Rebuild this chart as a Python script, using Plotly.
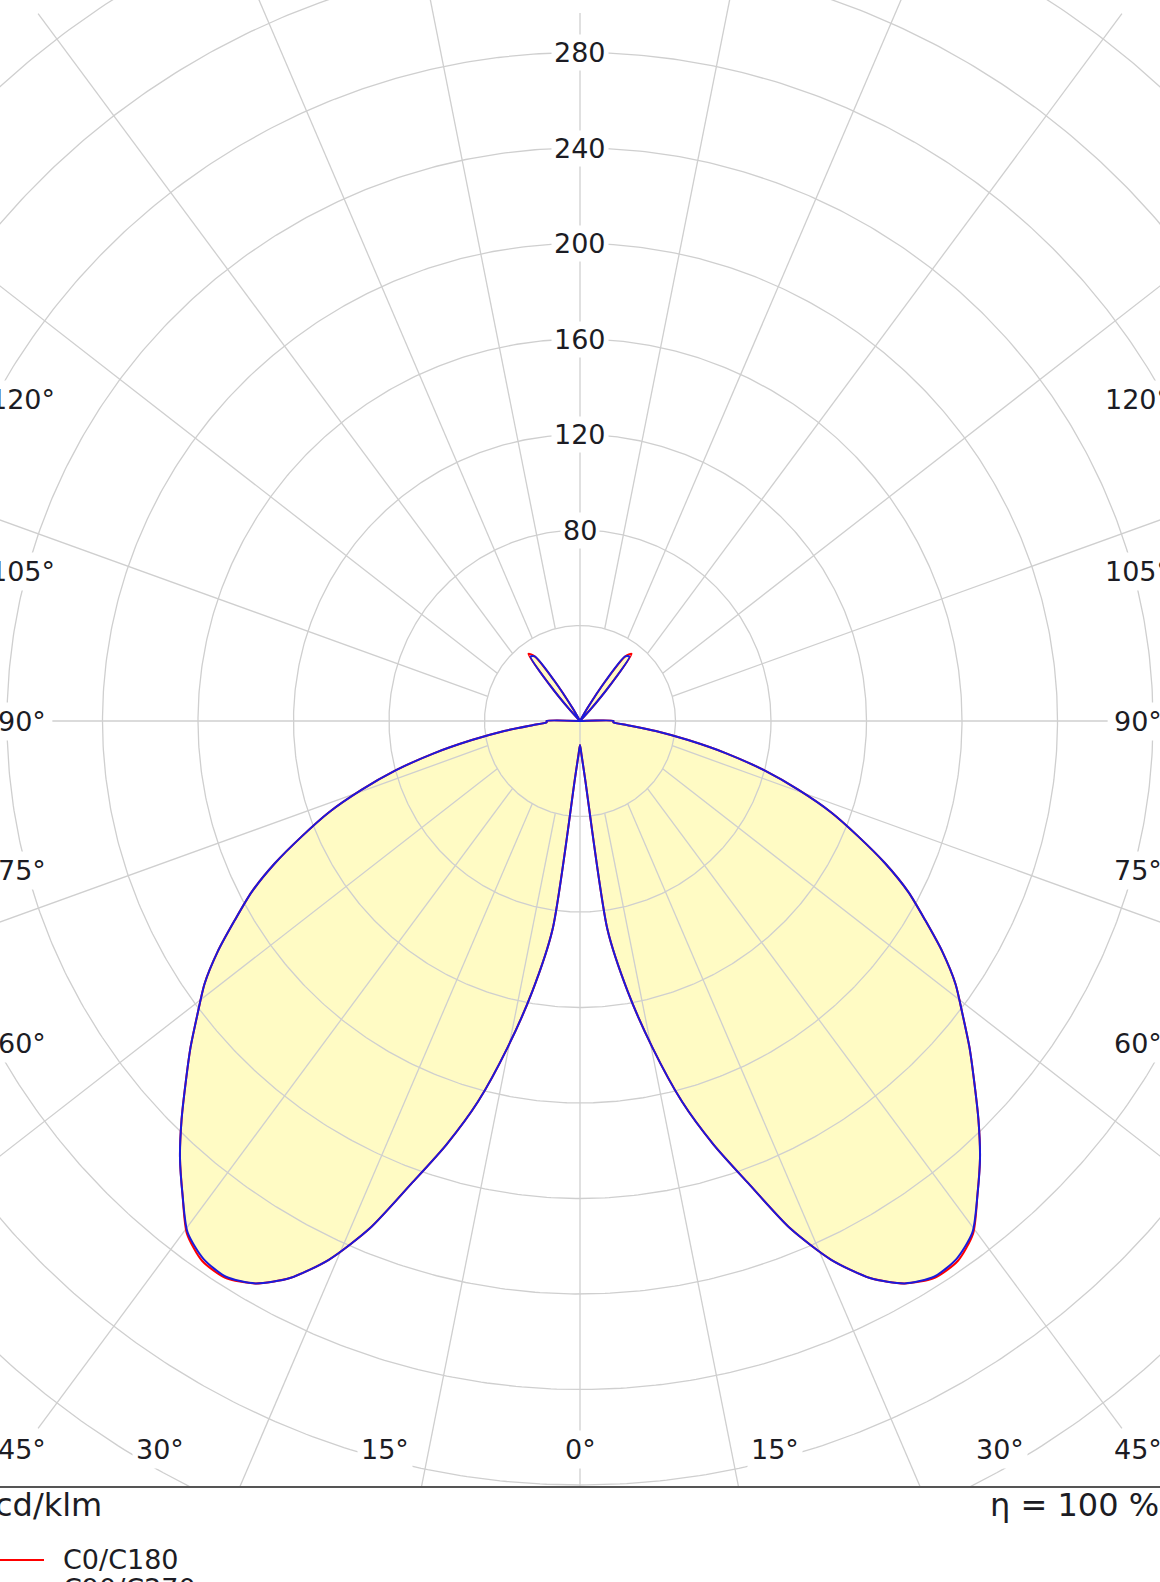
import numpy as np
import plotly.graph_objects as go

# ---------------- data ----------------
# gamma angle from nadir in degrees
gamma_deg = [0, 2.5, 5, 7.5, 10, 12.5, 15, 17.5, 20, 22.5, 25, 27.5, 30, 32.5, 35, 37.5,
             40, 42.5, 45, 47.5, 50, 52.5, 55, 57.5, 60, 62.5, 65, 67.5, 70, 72.5, 75, 77.5,
             80, 82.5, 85, 87.5, 90,
             92.5, 95, 100, 105, 110, 115, 120, 125, 130, 132.5, 135,
             137.5, 140, 142.5, 145, 147.5, 150, 152.5, 155,
             160, 165, 170, 175, 180]

# luminous intensity, cd/klm
c0_c180 = [10, 14, 24, 88, 115, 140, 165, 186, 206, 230, 249, 263, 272, 276.5, 276, 270.5,
           259, 248, 236, 224, 213, 202, 192, 180, 167, 155, 141, 126, 112, 96, 80, 63,
           46, 32, 20, 14, 14,
           0, 0, 0, 0, 0, 0, 0, 0, 0, 0, 0,
           6, 20, 35.5, 33, 20, 6, 0, 0,
           0, 0, 0, 0, 0]
c90_c270 = [10, 14, 24, 88, 115, 140, 165, 186, 206, 230, 249, 263, 272, 276, 275, 270,
            259, 248, 236, 224, 213, 202, 192, 180, 167, 155, 141, 126, 112, 96, 80, 63,
            46, 32, 20, 14, 14,
            0, 0, 0, 0, 0, 0, 0, 0, 0, 0, 0,
            6, 20, 34, 33, 20, 6, 0, 0,
            0, 0, 0, 0, 0]

ring_values = [40, 80, 120, 160, 200, 240, 280, 320, 360]
ring_labels = [80, 120, 160, 200, 240, 280]
ray_angles = [15, 30, 45, 60, 75, 105, 120, 135, 150, 165]
angle_labels = [0, 15, 30, 45, 60, 75, 90, 105, 120, 135, 150, 165, 180]
series_names = ["C0/C180", "C90/C270"]
series_colors = ["#ff0000", "#1a1adc"]
unit_text = "cd/klm"
eta_text = "η = 100 %"

# ---------------- geometry / style ----------------
W, H = 1160, 1582
PX_PER_UNIT = 2.3875
CX, CY = 580, 721          # centre in pixels
BOTTOM_PX = 1486           # bottom frame line
x_half = CX / PX_PER_UNIT
y_top = CY / PX_PER_UNIT
y_bot = -(BOTTOM_PX - CY) / PX_PER_UNIT

GRID = "#cfcfcf"
TXT = "#1c1c24"
FONT = "DejaVu Sans"
FILL = "#fffbc4"

g = np.radians(np.array(gamma_deg, float))


def curve(vals):
    v = np.array(vals, float)
    xr = v * np.sin(g)
    yr = -v * np.cos(g)
    x = np.concatenate([-xr[::-1], xr[1:]])
    y = np.concatenate([yr[::-1], yr[1:]])
    return x, y


fig = go.Figure()

# fill
fx, fy = curve(c90_c270)
fig.add_trace(go.Scatter(x=fx, y=fy, mode="lines", fill="toself", fillcolor=FILL,
                         line=dict(width=0, shape="spline", smoothing=0.7),
                         hoverinfo="skip", showlegend=False))

# rings
t = np.linspace(0, 2 * np.pi, 721)
rx, ry = [], []
for r in ring_values:
    rx += list(r * np.cos(t)) + [None]
    ry += list(r * np.sin(t)) + [None]
fig.add_trace(go.Scatter(x=rx, y=ry, mode="lines", line=dict(color=GRID, width=1.3),
                         hoverinfo="skip", showlegend=False))

# rays (start at first ring, end on outer ellipse of the drawing area)
A_OUT, B_OUT = 321.0, 419.0
r0 = ring_values[0]
lx, ly = [], []
for th in ray_angles:
    a = np.radians(th)
    for s in (1, -1):
        lx += [s * r0 * np.sin(a), s * A_OUT * np.sin(a), None]
        ly += [-r0 * np.cos(a), -B_OUT * np.cos(a), None]
# main axes
lx += [-221, 221, None, 0, 0]
ly += [0, 0, None, 296.5, y_bot - 10]
fig.add_trace(go.Scatter(x=lx, y=ly, mode="lines", line=dict(color=GRID, width=1.3),
                         hoverinfo="skip", showlegend=False))

# curves
for vals, name, col in zip([c0_c180, c90_c270], series_names, series_colors):
    cx, cy = curve(vals)
    fig.add_trace(go.Scatter(x=cx, y=cy, mode="lines", name=name,
                             line=dict(color=col, width=2, shape="spline", smoothing=0.7),
                             hoverinfo="skip", showlegend=False))

ann = []
# ring labels
for r in ring_labels:
    ann.append(dict(x=0, y=r, xref="x", yref="y", text=str(r), showarrow=False,
                    font=dict(family=FONT, size=27, color=TXT), bgcolor="white",
                    borderpad=2, xanchor="center", yanchor="middle"))

# angle labels on a rectangle
LX, LY = 233.6, 305.0
for th in angle_labels:
    sides = (1,) if th in (0, 180) else (1, -1)
    for s in sides:
        if th <= 45:
            x = min(LY * np.tan(np.radians(th)), LX)
            y = -LY
        elif th >= 135:
            x = min(LY * np.tan(np.radians(180 - th)), LX)
            y = LY
        else:
            x = LX
            y = -LX / np.tan(np.radians(th)) if th != 90 else 0.0
        ann.append(dict(x=s * x, y=y, xref="x", yref="y", text=f"{th}°", showarrow=False,
                        font=dict(family=FONT, size=27, color=TXT), bgcolor="white",
                        borderpad=3, xanchor="center", yanchor="middle"))

# bottom texts
ann.append(dict(x=-7 / W, y=1 - 1505 / H, xref="paper", yref="paper", text=unit_text,
                showarrow=False, font=dict(family=FONT, size=32, color=TXT),
                xanchor="left", yanchor="middle"))
ann.append(dict(x=988 / W, y=1 - 1505 / H, xref="paper", yref="paper", text=eta_text,
                showarrow=False, font=dict(family=FONT, size=32, color=TXT),
                xanchor="left", yanchor="middle"))

shapes = []
for i, (name, col) in enumerate(zip(series_names, series_colors)):
    yy = 1560 + 30 * i
    shapes.append(dict(type="line", xref="paper", yref="paper", x0=-2 / W, x1=44 / W,
                       y0=1 - yy / H, y1=1 - yy / H, line=dict(color=col, width=2)))
    ann.append(dict(x=61 / W, y=1 - (yy - 1) / H, xref="paper", yref="paper", text=name,
                    showarrow=False, font=dict(family=FONT, size=27, color=TXT),
                    xanchor="left", yanchor="middle"))

fig.update_layout(
    width=W, height=H, margin=dict(l=0, r=0, t=0, b=0),
    paper_bgcolor="white", plot_bgcolor="white", showlegend=False,
    xaxis=dict(range=[-x_half, x_half], showgrid=False, zeroline=False,
               showticklabels=False, ticks="", showline=True, linecolor="#555555",
               linewidth=2, fixedrange=True),
    yaxis=dict(range=[y_bot, y_top], domain=[(H - BOTTOM_PX) / H, 1], showgrid=False,
               zeroline=False, showticklabels=False, ticks="", showline=False,
               fixedrange=True),
    annotations=ann, shapes=shapes,
)

fig.write_html("out.html", config={"displayModeBar": False, "staticPlot": True},
               post_script="document.body.style.margin='0';")
